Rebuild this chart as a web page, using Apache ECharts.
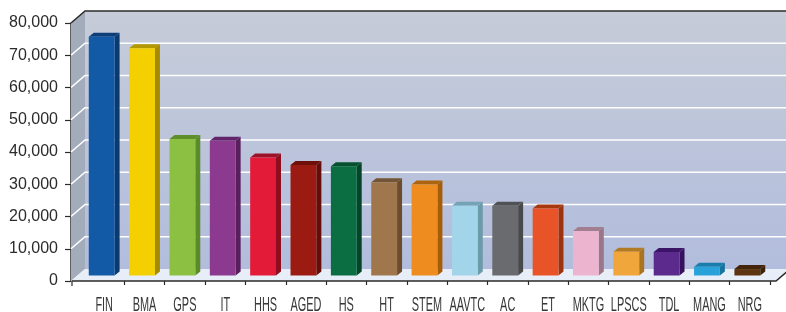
<!DOCTYPE html>
<html>
<head>
<meta charset="utf-8">
<script src="https://cdn.jsdelivr.net/npm/echarts@6/dist/echarts.min.js"></script>
<style>
html, body { margin: 0; padding: 0; background: #fff; }
#chart { width: 786px; height: 312px; }
</style>
</head>
<body>
<div id="chart"></div>
<script>
// data
const categories = ['FIN', 'BMA', 'GPS', 'IT', 'HHS', 'AGED', 'HS', 'HT', 'STEM', 'AAVTC', 'AC', 'ET', 'MKTG', 'LPSCS', 'TDL', 'MANG', 'NRG'];
const values = [74000, 70500, 42300, 41800, 36600, 34300, 33900, 28900, 28200, 21600, 21600, 20800, 13800, 7400, 7300, 2700, 2000];
const yMin = 0;
const yMax = 80000;
const yStep = 10000;

// bar colours: front face, side face, top face
const faceColors = ['#1259a6', '#f5d000', '#8cc043', '#8c3a8f', '#e31b38', '#9b1b12', '#0a6e42', '#a0774c', '#ee8c1f', '#a2d4ea', '#6a6b6e', '#e85427', '#ecb4cf', '#f0a63a', '#5b2a8c', '#29a2d9', '#5c3510'];
const sideColors = ['#0b3a70', '#a68b00', '#5a8a2a', '#5a1e5e', '#8e0e20', '#650d08', '#04452a', '#6b4d2e', '#a65d0a', '#6b9aab', '#48494b', '#9c3310', '#9a7788', '#a87420', '#36125e', '#16759f', '#3c2008'];
const topColors = ['#0c3f7a', '#b39800', '#5f8f2c', '#62246a', '#9c1226', '#6e0f0a', '#05502f', '#735434', '#ad640e', '#74a3b5', '#505154', '#a8390f', '#a27f90', '#b07b22', '#3d1566', '#187eab', '#43240a'];

const DX = 14, DY = -12;   // back wall offset
const MID = -5.5;          // bars stand half way back

const chart = echarts.init(document.getElementById('chart'), null, { renderer: 'canvas' });

function renderWalls(params, api) {
  const cs = params.coordSys;
  const L = cs.x - 13;
  const R = cs.x + cs.width + 6;
  const B = api.coord([0, yMin])[1];
  const T = api.coord([0, yMax])[1];
  const kids = [];
  // back wall
  kids.push({
    type: 'polygon',
    shape: { points: [[L + DX, T + DY], [R + DX, T + DY], [R + DX, B + DY], [L + DX, B + DY]] },
    style: { fill: new echarts.graphic.LinearGradient(0, 0, 0, 1, [
      { offset: 0, color: '#c6ccd8' }, { offset: 1, color: '#b2bddd' }]) }
  });
  // left wall
  kids.push({
    type: 'polygon',
    shape: { points: [[L, T], [L + DX, T + DY], [L + DX, B + DY], [L, B]] },
    style: { fill: '#a3acbb' }
  });
  // floor
  kids.push({
    type: 'polygon',
    shape: { points: [[L, B], [L + DX, B + DY], [R + DX, B + DY], [R, B]] },
    style: { fill: '#e8eef8' }
  });
  // grid lines
  for (let v = yMin + yStep; v < yMax; v += yStep) {
    const y = api.coord([0, v])[1];
    kids.push({
      type: 'polyline',
      shape: { points: [[L, y], [L + DX, y + DY], [R + DX, y + DY]] },
      style: { stroke: '#ffffff', lineWidth: 1.6, fill: null }
    });
  }
  // dark edges
  kids.push({
    type: 'polyline',
    shape: { points: [[L, T], [L + DX, T + DY], [R + DX, T + DY]] },
    style: { stroke: '#2b2b2b', lineWidth: 1.5, fill: null }
  });
  kids.push({
    type: 'polyline',
    shape: { points: [[L + 1, B], [R, B], [R + DX, B + DY]] },
    style: { stroke: '#2b2b2b', lineWidth: 1.5, fill: null }
  });
  kids.push({
    type: 'line',
    shape: { x1: L + 1, y1: B, x2: L + 1, y2: B + 5 },
    style: { stroke: '#2b2b2b', lineWidth: 1.2 }
  });
  return { type: 'group', children: kids };
}

function renderBar(params, api) {
  const i = api.value(0);
  const top = api.coord([i, api.value(1)]);
  const base = api.coord([i, 0]);
  const bw = api.size([1, 0])[0] * 0.64;
  const sx = 5, sy = -4;
  const x0 = top[0] - bw / 2 - 2.5;
  const x1 = x0 + bw;
  const y0 = top[1] + MID;
  const y1 = base[1] + MID;
  return {
    type: 'group',
    children: [
      { type: 'polygon', shape: { points: [[x1, y0], [x1 + sx, y0 + sy], [x1 + sx, y1 + sy], [x1, y1]] }, style: { fill: sideColors[i] } },
      { type: 'polygon', shape: { points: [[x0, y0], [x0 + sx, y0 + sy], [x1 + sx, y0 + sy], [x1, y0]] }, style: { fill: topColors[i] } },
      { type: 'rect', shape: { x: x0, y: y0, width: bw, height: y1 - y0 }, style: { fill: faceColors[i] } },
      {
        type: 'text', x: base[0], y: base[1] + 24.5, scaleX: 0.52,
        style: { text: categories[i], x: 0, y: 0, align: 'center', verticalAlign: 'middle',
          fontFamily: 'Liberation Sans', fontSize: 21, fill: '#383838' }
      }
    ]
  };
}

const option = {
  animation: false,
  grid: { left: 84, right: 16, top: 23, bottom: 31 },
  xAxis: {
    type: 'category',
    data: categories,
    axisLine: { show: false },
    axisTick: { show: true, length: 4, lineStyle: { color: '#2b2b2b', width: 1.2 },
      interval: function (idx) { return idx !== 0; } },
    axisLabel: { show: false },
    splitLine: { show: false }
  },
  yAxis: {
    type: 'value',
    min: yMin,
    max: yMax,
    interval: yStep,
    offset: 13,
    axisLine: { show: true, lineStyle: { color: '#2b2b2b', width: 1.5 } },
    axisTick: { show: true, length: 6, lineStyle: { color: '#2b2b2b', width: 1.2 } },
    axisLabel: { margin: 13, fontFamily: 'Liberation Sans', fontSize: 16, color: '#2b2b2b',
      formatter: function (v) { return v.toLocaleString('en-US'); } },
    splitLine: { show: false }
  },
  series: [
    {
      type: 'custom',
      z: 1,
      clip: false,
      silent: true,
      renderItem: renderWalls,
      data: [[0, 0]]
    },
    {
      type: 'custom',
      z: 3,
      clip: false,
      renderItem: renderBar,
      encode: { x: 0, y: 1 },
      data: values.map(function (v, i) { return [i, v]; })
    }
  ]
};

chart.setOption(option);
</script>
</body>
</html>
